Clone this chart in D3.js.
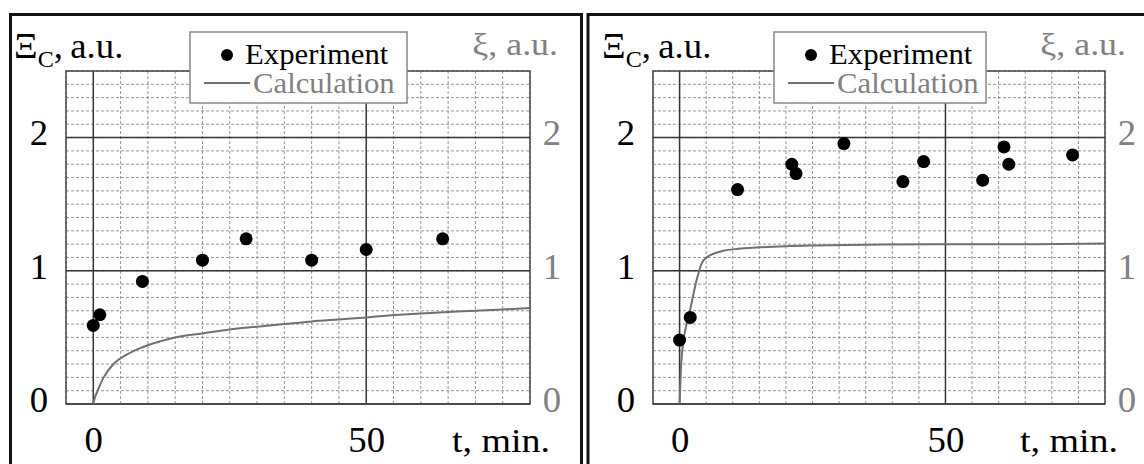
<!DOCTYPE html>
<html>
<head>
<meta charset="utf-8">
<script src="https://cdn.jsdelivr.net/npm/d3@7"></script>
<style>
  body { margin: 0; background: #fff; }
  text { font-family: "Liberation Serif", "Times New Roman", Times, serif; }
</style>
</head>
<body>
<div id="chart"></div>
<script>
// left panel
var expTimeA = [0, 1.2, 9, 20, 28, 40, 50, 64];
var expValA = [0.59, 0.67, 0.92, 1.08, 1.24, 1.08, 1.16, 1.24];
var calcTimeA = [0, 0.3, 0.7, 1.9, 3.7, 6.1, 8.6, 12.2, 15, 20, 25, 30, 35, 40, 45, 50, 56, 60, 70, 80];
var calcValA = [0, 0.05, 0.09, 0.2, 0.3, 0.37, 0.42, 0.47, 0.5, 0.53, 0.56, 0.58, 0.6, 0.62, 0.635, 0.65, 0.67, 0.68, 0.7, 0.72];

// right panel
var expTimeB = [0, 2, 10.9, 21.1, 21.9, 30.9, 42, 45.9, 57, 61, 61.9, 73.9];
var expValB = [0.48, 0.65, 1.61, 1.8, 1.73, 1.955, 1.67, 1.82, 1.68, 1.93, 1.8, 1.87];
var calcTimeB = [0, 0.3, 0.7, 1.2, 2, 3.2, 4.2, 5.1, 6.5, 8.2, 11, 14.5, 20, 25, 35, 50, 65, 80];
var calcValB = [0, 0.3, 0.47, 0.58, 0.71, 0.93, 1.06, 1.1, 1.13, 1.15, 1.165, 1.175, 1.185, 1.19, 1.195, 1.2, 1.2, 1.205];

var xTicks = [0, 50];
var yTicks = [0, 1, 2];
var xMinor = [-5, 5, 10, 15, 20, 25, 30, 35, 40, 45, 55, 60, 65, 70, 75, 80];
var yMinor = d3.range(0, 2.51, 0.1).map(function (d) { return +d.toFixed(1); });
var legendLabels = ["Experiment", "Calculation"];

var W = 1144, H = 464;

var svg = d3.select("#chart").append("svg").attr("width", W).attr("height", H);

function label(g, x, y, str, size, color, anchor, sx) {
  return g.append("text")
    .attr("transform", "translate(" + x + "," + y + ") scale(" + (sx || 1.1) + ",1)")
    .attr("text-anchor", anchor || "start")
    .style("font-size", size + "px")
    .attr("fill", color)
    .text(str);
}

function drawPanel(p) {
  var g = svg.append("g");

  // outer frame
  g.append("rect").attr("x", p.fx0).attr("y", 14.5).attr("width", p.fx1 - p.fx0).attr("height", 480)
    .attr("fill", "none").attr("stroke", "#111").attr("stroke-width", 3);

  var x = d3.scaleLinear().domain([-5, 80]).range([p.left, p.right]);
  var y = d3.scaleLinear().domain([0, 2.5]).range([404, 71]);

  // dashed minor grid
  g.selectAll(".vminor").data(xMinor).enter().append("line")
    .attr("x1", function (d) { return x(d); }).attr("x2", function (d) { return x(d); })
    .attr("y1", y(0)).attr("y2", y(2.5))
    .attr("stroke", "#8a8a8a").attr("stroke-width", 0.9).attr("stroke-dasharray", "3,2");
  g.selectAll(".hminor").data(yMinor).enter().append("line")
    .attr("x1", x(-5)).attr("x2", x(80))
    .attr("y1", function (d) { return y(d); }).attr("y2", function (d) { return y(d); })
    .attr("stroke", "#8a8a8a").attr("stroke-width", 0.9).attr("stroke-dasharray", "3,2");

  // solid major grid
  g.selectAll(".vmajor").data(xTicks).enter().append("line")
    .attr("x1", function (d) { return x(d); }).attr("x2", function (d) { return x(d); })
    .attr("y1", y(0)).attr("y2", y(2.5))
    .attr("stroke", "#333").attr("stroke-width", 1.5);
  g.selectAll(".hmajor").data(yTicks).enter().append("line")
    .attr("x1", x(-5)).attr("x2", x(80))
    .attr("y1", function (d) { return y(d); }).attr("y2", function (d) { return y(d); })
    .attr("stroke", "#333").attr("stroke-width", 1.5);

  g.append("rect").attr("x", x(-5)).attr("y", y(2.5)).attr("width", x(80) - x(-5)).attr("height", y(0) - y(2.5))
    .attr("fill", "none").attr("stroke", "#444").attr("stroke-width", 1.5);

  // axes (labels only)
  var axL = g.append("g").attr("transform", "translate(" + (p.left - 27) + ",-5)")
    .call(d3.axisLeft(y).tickValues(yTicks).tickSize(0).tickPadding(0).tickFormat(d3.format("d")));
  var axR = g.append("g").attr("transform", "translate(" + (p.right + 22) + ",-5)")
    .call(d3.axisRight(y).tickValues(yTicks).tickSize(0).tickPadding(0).tickFormat(d3.format("d")));
  var axB = g.append("g").attr("transform", "translate(0,440)")
    .call(d3.axisBottom(x).tickValues(xTicks).tickSize(0).tickPadding(0).tickFormat(d3.format("d")));
  [axL, axR, axB].forEach(function (a) { a.select(".domain").remove(); a.attr("font-family", null); });
  axL.selectAll("text").attr("text-anchor", "middle").attr("x", 0).attr("dy", "0.35em")
    .style("font-size", "35px").attr("fill", "#000").attr("transform", "scale(1.05,1)");
  axR.selectAll("text").attr("text-anchor", "middle").attr("x", 0).attr("dy", "0.35em")
    .style("font-size", "35px").attr("fill", "#808080").attr("transform", "scale(1.05,1)");
  axB.selectAll("text").attr("text-anchor", "middle").attr("y", 0).attr("dy", "0.35em")
    .style("font-size", "35px").attr("fill", "#000").attr("transform", "scale(1.05,1)");

  label(g, p.right + p.tOff, 452, "t, min.", 33, "#000", "end", 1.15);

  // axis titles
  var tl = g.append("text")
    .attr("transform", "translate(" + p.titleX + ",58) scale(1.05,1)")
    .style("font-size", "35px").attr("fill", "#000");
  tl.append("tspan").text("\u039E");
  tl.append("tspan").attr("dy", 9).style("font-size", "23px").text("C");
  tl.append("tspan").attr("dy", -9).text(",");
  tl.append("tspan").attr("dx", 7).text("a.u.");
  label(g, p.right + p.tOff + 8, 55, "\u03BE, a.u.", 32, "#808080", "end", 1.12);

  // calculation curve
  var calc = p.calcT.map(function (t, i) { return [t, p.calcV[i]]; });
  g.append("path").datum(calc)
    .attr("fill", "none").attr("stroke", "#707070").attr("stroke-width", 2)
    .attr("d", d3.line().curve(d3.curveMonotoneX)
      .x(function (d) { return x(d[0]); }).y(function (d) { return y(d[1]); }));

  // experiment points
  var pts = p.expT.map(function (t, i) { return [t, p.expV[i]]; });
  g.selectAll(".pt").data(pts).enter().append("circle")
    .attr("cx", function (d) { return x(d[0]); }).attr("cy", function (d) { return y(d[1]); })
    .attr("r", 6.5).attr("fill", "#000");

  // legend
  var lg = g.append("g").attr("transform", "translate(" + p.legX + ",32)");
  lg.append("rect").attr("x", 0).attr("y", 0).attr("width", p.legW).attr("height", 71)
    .attr("fill", "#fff").attr("stroke", "#888").attr("stroke-width", 1.5);
  lg.append("circle").attr("cx", 37).attr("cy", 23).attr("r", 6).attr("fill", "#000");
  label(lg, 55, 32, legendLabels[0], 29, "#000", "start", 1.06);
  lg.append("line").attr("x1", 14).attr("x2", 60).attr("y1", 51).attr("y2", 51)
    .attr("stroke", "#707070").attr("stroke-width", 2);
  label(lg, 63, 61, legendLabels[1], 29, "#808080", "start", 1.06);
}

drawPanel({ fx0: 10.5, fx1: 581.5, left: 66, right: 530, legX: 190, legW: 217, tOff: 20, titleX: 14,
  expT: expTimeA, expV: expValA, calcT: calcTimeA, calcV: calcValA });
drawPanel({ fx0: 588, fx1: 1150, left: 653, right: 1105, legX: 774, legW: 212, tOff: 13, titleX: 602,
  expT: expTimeB, expV: expValB, calcT: calcTimeB, calcV: calcValB });
</script>
</body>
</html>
